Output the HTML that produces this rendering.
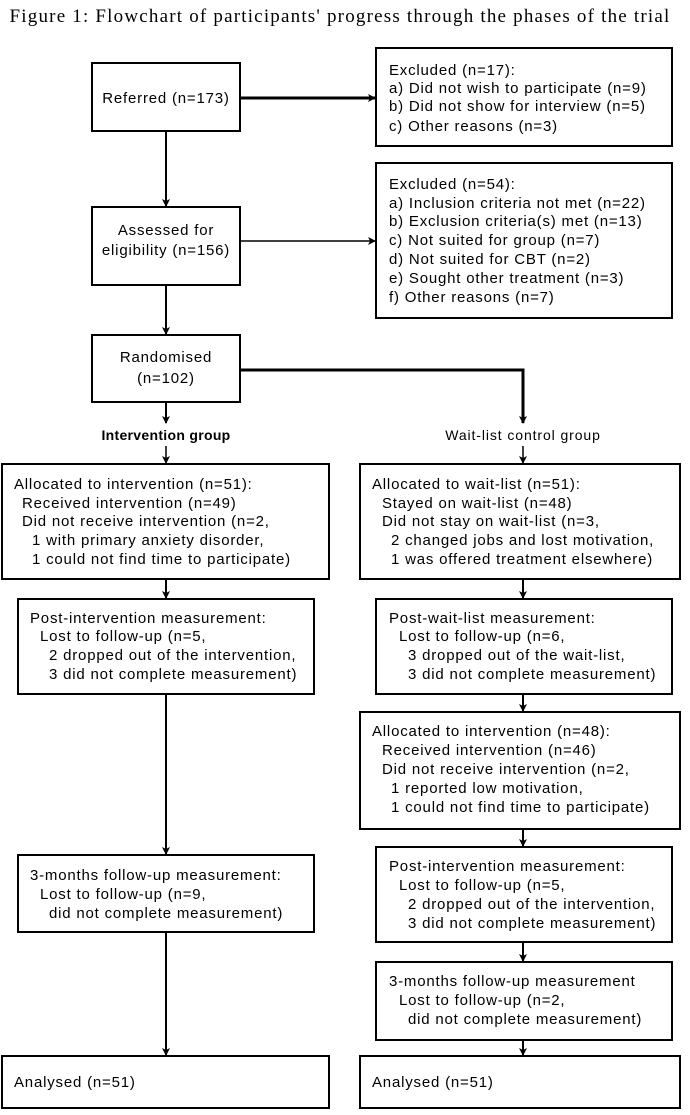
<!DOCTYPE html>
<html><head><meta charset="utf-8"><style>
body{margin:0;background:#fff}
svg text{font-family:"Liberation Sans",sans-serif;font-size:15px;letter-spacing:0.8px;fill:#000}
</style></head><body>
<svg width="690" height="1110" viewBox="0 0 690 1110" xmlns="http://www.w3.org/2000/svg">
<defs><marker id="a" markerWidth="8" markerHeight="8" refX="7" refY="4" orient="auto" markerUnits="userSpaceOnUse"><path d="M0,0 L8,4 L0,8 L2,4 Z" fill="#000"/></marker></defs>
<text x="340" y="22" text-anchor="middle" style="font-family:'Liberation Serif',serif;font-size:19px;letter-spacing:1.2px">Figure 1: Flowchart of participants' progress through the phases of the trial</text>
<g fill="none" stroke="#000" stroke-width="2">
<rect x="92" y="63" width="148" height="68"/>
<rect x="376" y="48" width="296" height="98"/>
<rect x="92" y="207" width="148" height="78"/>
<rect x="376" y="163" width="296" height="155"/>
<rect x="92" y="335" width="148" height="67"/>
<rect x="2" y="464" width="327" height="115"/>
<rect x="360" y="464" width="320" height="115"/>
<rect x="18" y="599" width="296" height="95"/>
<rect x="376" y="599" width="296" height="95"/>
<rect x="360" y="712" width="320" height="117"/>
<rect x="376" y="847" width="296" height="95"/>
<rect x="18" y="855" width="296" height="77"/>
<rect x="376" y="962" width="296" height="78"/>
<rect x="2" y="1056" width="327" height="52"/>
<rect x="360" y="1056" width="320" height="52"/>
</g>
<g fill="none" stroke="#000" stroke-width="2">
<line x1="240" y1="98" x2="375" y2="98" stroke-width="3" marker-end="url(#a)"/>
<line x1="166" y1="131" x2="166" y2="206" marker-end="url(#a)"/>
<line x1="240" y1="241" x2="375" y2="241" stroke-width="1.5" marker-end="url(#a)"/>
<line x1="166" y1="285" x2="166" y2="334" marker-end="url(#a)"/>
<line x1="166" y1="402" x2="166" y2="423" marker-end="url(#a)"/>
<polyline points="240,370 523,370 523,423" stroke-width="3" marker-end="url(#a)"/>
<line x1="166" y1="446" x2="166" y2="463" stroke-width="1.5" marker-end="url(#a)"/>
<line x1="523" y1="446" x2="523" y2="463" stroke-width="1.5" marker-end="url(#a)"/>
<line x1="166" y1="579" x2="166" y2="598" marker-end="url(#a)"/>
<line x1="523" y1="579" x2="523" y2="598" marker-end="url(#a)"/>
<line x1="523" y1="694" x2="523" y2="711" marker-end="url(#a)"/>
<line x1="523" y1="829" x2="523" y2="846" marker-end="url(#a)"/>
<line x1="166" y1="694" x2="166" y2="854" marker-end="url(#a)"/>
<line x1="523" y1="942" x2="523" y2="961" marker-end="url(#a)"/>
<line x1="166" y1="932" x2="166" y2="1055" marker-end="url(#a)"/>
<line x1="523" y1="1040" x2="523" y2="1055" marker-end="url(#a)"/>
</g>
<text x="166" y="103" text-anchor="middle">Referred (n=173)</text>
<text x="389" y="75">Excluded (n=17):</text>
<text x="389" y="93">a) Did not wish to participate (n=9)</text>
<text x="389" y="111">b) Did not show for interview (n=5)</text>
<text x="389" y="131">c) Other reasons (n=3)</text>
<text x="166" y="235" text-anchor="middle">Assessed for</text>
<text x="166" y="255" text-anchor="middle">eligibility (n=156)</text>
<text x="389" y="189">Excluded (n=54):</text>
<text x="389" y="208">a) Inclusion criteria not met (n=22)</text>
<text x="389" y="226">b) Exclusion criteria(s) met (n=13)</text>
<text x="389" y="245">c) Not suited for group (n=7)</text>
<text x="389" y="264">d) Not suited for CBT (n=2)</text>
<text x="389" y="283">e) Sought other treatment (n=3)</text>
<text x="389" y="302">f) Other reasons (n=7)</text>
<text x="166" y="362" text-anchor="middle">Randomised</text>
<text x="166" y="383" text-anchor="middle">(n=102)</text>
<text x="166" y="440" text-anchor="middle" style="font-weight:bold;font-size:14px;letter-spacing:0.3px">Intervention group</text>
<text x="523" y="440" text-anchor="middle" style="font-size:14px;letter-spacing:0.9px">Wait-list control group</text>
<text x="14" y="489">Allocated to intervention (n=51):</text>
<text x="22" y="508">Received intervention (n=49)</text>
<text x="22" y="526">Did not receive intervention (n=2,</text>
<text x="32" y="545">1 with primary anxiety disorder,</text>
<text x="32" y="564">1 could not find time to participate)</text>
<text x="372" y="489">Allocated to wait-list (n=51):</text>
<text x="382" y="508">Stayed on wait-list (n=48)</text>
<text x="382" y="526">Did not stay on wait-list (n=3,</text>
<text x="391" y="545">2 changed jobs and lost motivation,</text>
<text x="391" y="564">1 was offered treatment elsewhere)</text>
<text x="30" y="623">Post-intervention measurement:</text>
<text x="40" y="641">Lost to follow-up (n=5,</text>
<text x="49" y="660">2 dropped out of the intervention,</text>
<text x="49" y="679">3 did not complete measurement)</text>
<text x="389" y="623">Post-wait-list measurement:</text>
<text x="399" y="641">Lost to follow-up (n=6,</text>
<text x="408" y="660">3 dropped out of the wait-list,</text>
<text x="408" y="679">3 did not complete measurement)</text>
<text x="372" y="736">Allocated to intervention (n=48):</text>
<text x="382" y="755">Received intervention (n=46)</text>
<text x="382" y="774">Did not receive intervention (n=2,</text>
<text x="391" y="793">1 reported low motivation,</text>
<text x="391" y="812">1 could not find time to participate)</text>
<text x="389" y="871">Post-intervention measurement:</text>
<text x="399" y="890">Lost to follow-up (n=5,</text>
<text x="408" y="909">2 dropped out of the intervention,</text>
<text x="408" y="928">3 did not complete measurement)</text>
<text x="30" y="880">3-months follow-up measurement:</text>
<text x="40" y="899">Lost to follow-up (n=9,</text>
<text x="49" y="918">did not complete measurement)</text>
<text x="389" y="986">3-months follow-up measurement</text>
<text x="399" y="1005">Lost to follow-up (n=2,</text>
<text x="408" y="1024">did not complete measurement)</text>
<text x="14" y="1087">Analysed (n=51)</text>
<text x="372" y="1087">Analysed (n=51)</text>
</svg>
</body></html>
